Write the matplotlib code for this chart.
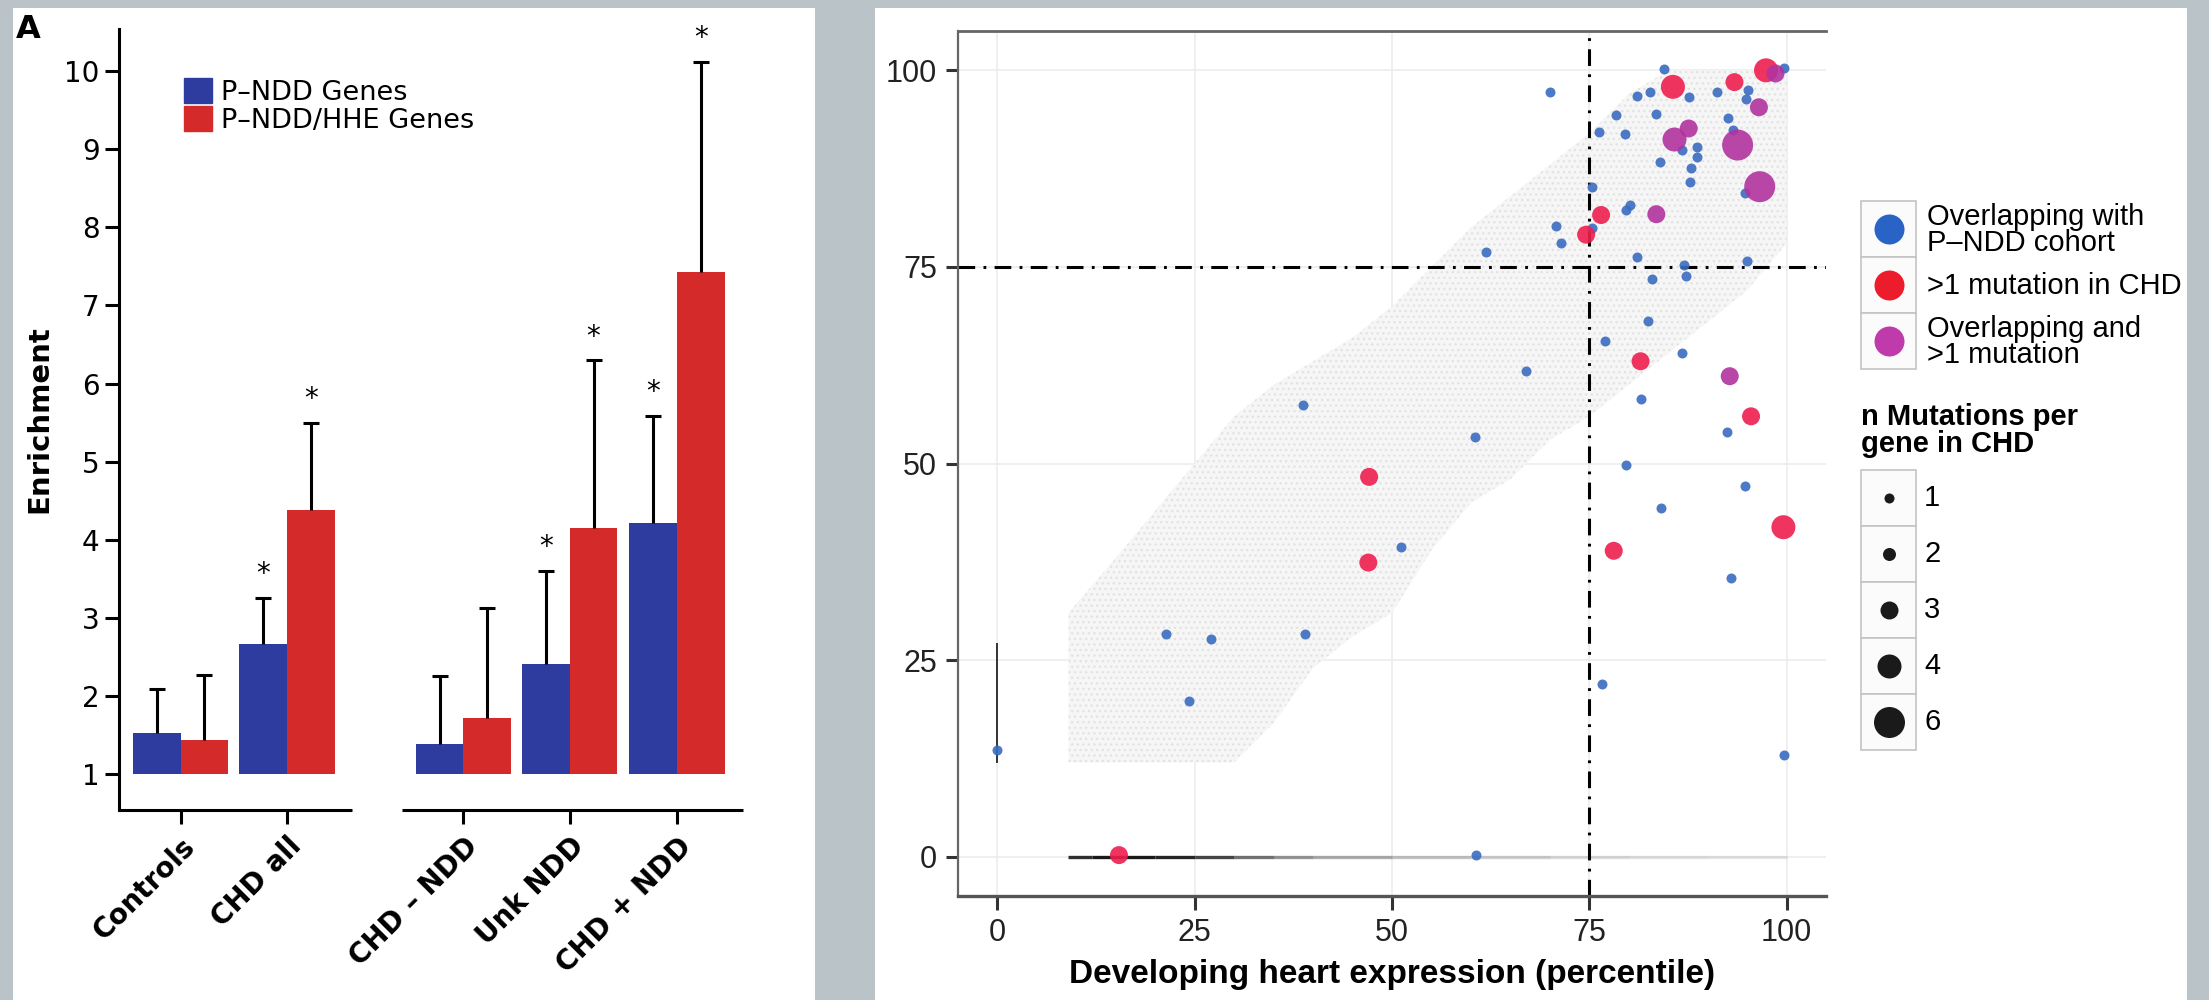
import matplotlib
matplotlib.use('Agg')
import matplotlib.pyplot as plt
from matplotlib.patches import Patch, Rectangle
from matplotlib.collections import LineCollection
import numpy as np

plt.rcParams['lines.scale_dashes'] = False

# ---------------- panel A: enrichment bar chart ----------------
groups = ['Controls', 'CHD all', 'CHD – NDD', 'Unk NDD', 'CHD + NDD']
group_pos = [0, 1, 2.66, 3.66, 4.67]
pndd = [1.52, 2.66, 1.39, 2.41, 4.21]        # P-NDD genes enrichment
pndd_hi = [2.09, 3.26, 2.25, 3.60, 5.59]     # upper error
hhe = [1.43, 4.38, 1.72, 4.15, 7.43]         # P-NDD/HHE genes enrichment
hhe_hi = [2.27, 5.50, 3.13, 6.30, 10.12]
pndd_sig = [False, True, False, True, True]
hhe_sig = [False, True, False, True, True]

# ---------------- panel B: expression percentile scatter ----------------
blue_x = [70.0, 84.5, 81.1, 82.7, 87.6, 91.2, 99.7, 95.1, 94.8, 78.4, 83.5, 92.6, 76.2, 79.5,
          93.2, 86.8, 88.7, 88.7, 83.9, 87.9, 87.8, 94.7, 75.4, 79.7, 80.2, 70.8, 71.4, 75.3,
          81.0, 87.0, 87.2, 83.0, 95.0, 82.5, 77.0, 86.8, 67.0, 81.5, 92.4, 79.7, 94.7, 84.1,
          92.9, 61.9, 38.7, 60.5, 51.1, 21.3, 27.1, 39.0, 24.3, 76.6, 0.0, 99.7, 60.6]
blue_y = [97.2, 100.2, 96.7, 97.2, 96.6, 97.2, 100.3, 97.5, 96.4, 94.3, 94.4, 93.9, 92.2, 91.9,
          92.4, 89.9, 90.3, 89.0, 88.4, 87.6, 85.8, 84.4, 85.2, 82.3, 82.9, 80.2, 78.1, 80.0,
          76.2, 75.2, 73.9, 73.5, 75.7, 68.1, 65.6, 64.1, 61.8, 58.2, 54.0, 49.8, 47.2, 44.3,
          35.5, 76.9, 57.4, 53.4, 39.4, 28.3, 27.7, 28.3, 19.8, 21.9, 13.6, 12.9, 0.2]
red_x = [85.6, 93.4, 97.4, 76.5, 74.6, 81.5, 95.5, 99.6, 78.1, 47.1, 47.0, 15.4]
red_y = [97.9, 98.5, 100.0, 81.6, 79.1, 63.0, 56.0, 41.9, 38.9, 48.3, 37.4, 0.2]
red_n = [4, 3, 4, 3, 3, 3, 3, 4, 3, 3, 3, 3]
mag_x = [98.6, 96.5, 85.8, 87.6, 93.8, 96.6, 83.5, 92.8]
mag_y = [99.6, 95.3, 91.2, 92.6, 90.5, 85.2, 81.7, 61.1]
mag_n = [3, 3, 4, 3, 6, 6, 3, 3]

# outline of the grey cloud of all other genes
cloud_x = [9, 15, 20, 25, 30, 35, 40, 45, 50, 55, 60, 65, 70, 75, 80, 85, 90, 95, 100]
cloud_lo = [12, 12, 12, 12, 12, 17, 24, 28, 31, 39, 45, 48, 53, 56, 60, 64, 68, 72, 78]
cloud_hi = [31, 38, 44, 50, 56, 60, 63, 66, 70, 75, 80, 84, 88, 92, 97, 100, 100, 100, 100]
# genes with zero y-percentile: density along the bottom row
zero_x = [9, 12, 16, 20, 25, 30, 35, 40, 50, 60, 70, 80, 90, 100]
zero_shade = [0.9, 1.0, 1.0, 0.95, 0.8, 0.6, 0.45, 0.35, 0.25, 0.2, 0.15, 0.12, 0.1]
zero_col = [12, 27]  # genes with zero x-percentile
cutoff = 75

size_levels = [1, 2, 3, 4, 6]
size_px = {1: 10, 2: 13, 3: 18, 4: 24, 6: 31}

BLUE, RED = '#2f3c9f', '#d42a2a'
PT_BLUE, PT_RED, PT_MAG = '#3a6cc0', '#ee1f4e', '#b2339f'
KEY_BLUE, KEY_RED, KEY_MAG = '#2a63c6', '#ec1c2c', '#bf3aaa'
W, H = 2209, 1000


def s_of(n):
    return (size_px[n] * 0.72) ** 2


fig = plt.figure(figsize=(W / 100, H / 100), dpi=100, facecolor='#bac4c8')
# white backgrounds of the two panels, drawn on an axes at the bottom of the stack
bg = fig.add_axes([0, 0, 1, 1], zorder=-10)
bg.set_xlim(0, W)
bg.set_ylim(H, 0)
bg.axis('off')
bg.add_patch(Rectangle((13, 8), 815 - 13, H, facecolor='white', edgecolor='none'))
bg.add_patch(Rectangle((875, 8), 2187 - 875, H, facecolor='white', edgecolor='none'))

# ---- left panel
ax = fig.add_axes([119 / W, 0.19, (743 - 119) / W, 0.781])
ax.set_facecolor('none')
pos = np.array(group_pos)
bw = 0.448
cap = 0.075
ax.bar(pos - bw / 2, np.array(pndd) - 1, width=bw, bottom=1, color=BLUE, zorder=2)
ax.bar(pos + bw / 2, np.array(hhe) - 1, width=bw, bottom=1, color=RED, zorder=2)
for off, vals, hi, sig in [(-bw / 2, pndd, pndd_hi, pndd_sig), (bw / 2, hhe, hhe_hi, hhe_sig)]:
    xs = pos + off
    # one-sided error bars: stem from the bar top plus a cap
    ax.vlines(xs, vals, hi, color='black', lw=2.2, zorder=3)
    ax.hlines(hi, xs - cap, xs + cap, color='black', lw=2.2, zorder=3)
    for xx, top, s in zip(xs, hi, sig):
        if s:
            ax.text(xx, top + 0.2, '*', ha='center', va='baseline', fontsize=20)

ax.set_xlim(-0.58, 5.29)
ax.set_ylim(0.54, 10.54)
ax.set_yticks(range(1, 11))
ax.set_xticks(pos)
ax.set_xticklabels(groups, rotation=45, ha='right', rotation_mode='anchor', fontweight='bold',
                   fontsize=20)
for sp in ['top', 'right', 'bottom']:
    ax.spines[sp].set_visible(False)
ax.spines['left'].set_linewidth(2.2)
ax.tick_params(axis='y', labelsize=20, length=10, width=2.2, pad=4)
ax.tick_params(axis='x', length=10, width=2.2, pad=6)
xt = ax.get_xaxis_transform()
ax.plot([-0.58, 1.61], [0, 0], transform=xt, color='black', lw=2.2, clip_on=False,
        solid_capstyle='butt')
ax.plot([2.08, 5.29], [0, 0], transform=xt, color='black', lw=2.2, clip_on=False,
        solid_capstyle='butt')
ax.set_ylabel('Enrichment', fontsize=21, fontweight='bold', labelpad=8)
ax.legend(handles=[Patch(color=BLUE, label='P–NDD Genes'), Patch(color=RED, label='P–NDD/HHE Genes')],
          loc='upper left', bbox_to_anchor=(184 / W, 1 - 78 / H), bbox_transform=fig.transFigure,
          frameon=False, fontsize=19.5, handlelength=1.05, handleheight=1.05, labelspacing=0,
          handletextpad=0.3, borderpad=0, borderaxespad=0)
fig.text(16 / W, 1 - 14 / H, 'A', fontsize=23, fontweight='bold', va='top', ha='left')

# ---- right panel
ax2 = fig.add_axes([958 / W, 0.104, (1826 - 958) / W, 0.865])
ax2.set_facecolor('white')
ax2.set_xlim(-5, 105)
ax2.set_ylim(-5, 105)
ax2.set_xticks([0, 25, 50, 75, 100])
ax2.set_yticks([0, 25, 50, 75, 100])
ax2.grid(color='#ececec', lw=1.2)
ax2.set_axisbelow(True)
ax2.fill_between(cloud_x, cloud_lo, cloud_hi, facecolor='#f6f6f6', edgecolor='#e3e3e3', hatch='...',
                 lw=0, zorder=1)
segs = [[(zero_x[i], 0), (zero_x[i + 1], 0)] for i in range(len(zero_x) - 1)]
ax2.add_collection(LineCollection(segs, colors=[(0.1, 0.1, 0.1, a) for a in zero_shade],
                                  linewidths=2.4, zorder=1.5))
ax2.plot([0, 0], zero_col, color='#333333', lw=1.4, zorder=1.5)
ax2.axvline(cutoff, color='black', lw=2.2, dashes=(12, 6, 2, 6), zorder=2)
ax2.axhline(cutoff, color='black', lw=2.2, dashes=(12, 6, 2, 6), zorder=2)
ax2.scatter(blue_x, blue_y, s=s_of(1), color=PT_BLUE, alpha=0.9, lw=0, zorder=3)
ax2.scatter(red_x, red_y, s=[s_of(n) for n in red_n], color=PT_RED, alpha=0.9, lw=0, zorder=3)
ax2.scatter(mag_x, mag_y, s=[s_of(n) for n in mag_n], color=PT_MAG, alpha=0.9, lw=0, zorder=3)

ax2.spines['top'].set_color('#666666')
ax2.spines['top'].set_linewidth(2)
ax2.spines['bottom'].set_color('#555555')
ax2.spines['bottom'].set_linewidth(2.4)
ax2.spines['left'].set_color('#666666')
ax2.spines['left'].set_linewidth(1.6)
ax2.spines['right'].set_visible(False)
ax2.tick_params(axis='both', labelsize=22, width=2.2, color='#333333', labelcolor='#222222',
                labelfontfamily='Liberation Sans')
ax2.tick_params(axis='y', length=9, pad=6)
ax2.tick_params(axis='x', length=10, pad=6)
ax2.set_xlabel('Developing heart expression (percentile)', fontsize=24, fontweight='bold',
               family='Liberation Sans', labelpad=8)

# ---- right-hand legends, drawn in pixel space
lg = fig.add_axes([0, 0, 1, 1], zorder=5)
lg.set_xlim(0, W)
lg.set_ylim(H, 0)
lg.axis('off')
key_x, key_w, key_h = 1861, 55, 56
col_items = [('Overlapping with\nP–NDD cohort', KEY_BLUE), ('>1 mutation in CHD', KEY_RED),
             ('Overlapping and\n>1 mutation', KEY_MAG)]
top = 201
for i, (lab, c) in enumerate(col_items):
    y0 = top + i * key_h
    lg.add_patch(Rectangle((key_x, y0), key_w, key_h, facecolor='#fbfbfb', edgecolor='#c4c4c4', lw=1.2))
    lg.scatter([key_x + key_w / 2], [y0 + key_h / 2], s=(30 * 0.72) ** 2, color=c, lw=0)
    lg.text(1927, y0 + key_h / 2 + 1, lab, fontsize=21, family='Liberation Sans', va='center',
            ha='left', linespacing=0.95)

lg.text(key_x, 403, 'n Mutations per\ngene in CHD', fontsize=21, fontweight='bold',
        family='Liberation Sans', va='top', ha='left', linespacing=0.95)
top = 470
for i, n in enumerate(size_levels):
    y0 = top + i * key_h
    lg.add_patch(Rectangle((key_x, y0), key_w, key_h, facecolor='#fbfbfb', edgecolor='#c4c4c4', lw=1.2))
    lg.scatter([key_x + key_w / 2], [y0 + key_h / 2], s=s_of(n), color='#1a1a1a', lw=0)
    lg.text(1924, y0 + key_h / 2, str(n), fontsize=21, family='Liberation Sans', va='center', ha='left')

fig.savefig('out.png', dpi=100, facecolor=fig.get_facecolor())
